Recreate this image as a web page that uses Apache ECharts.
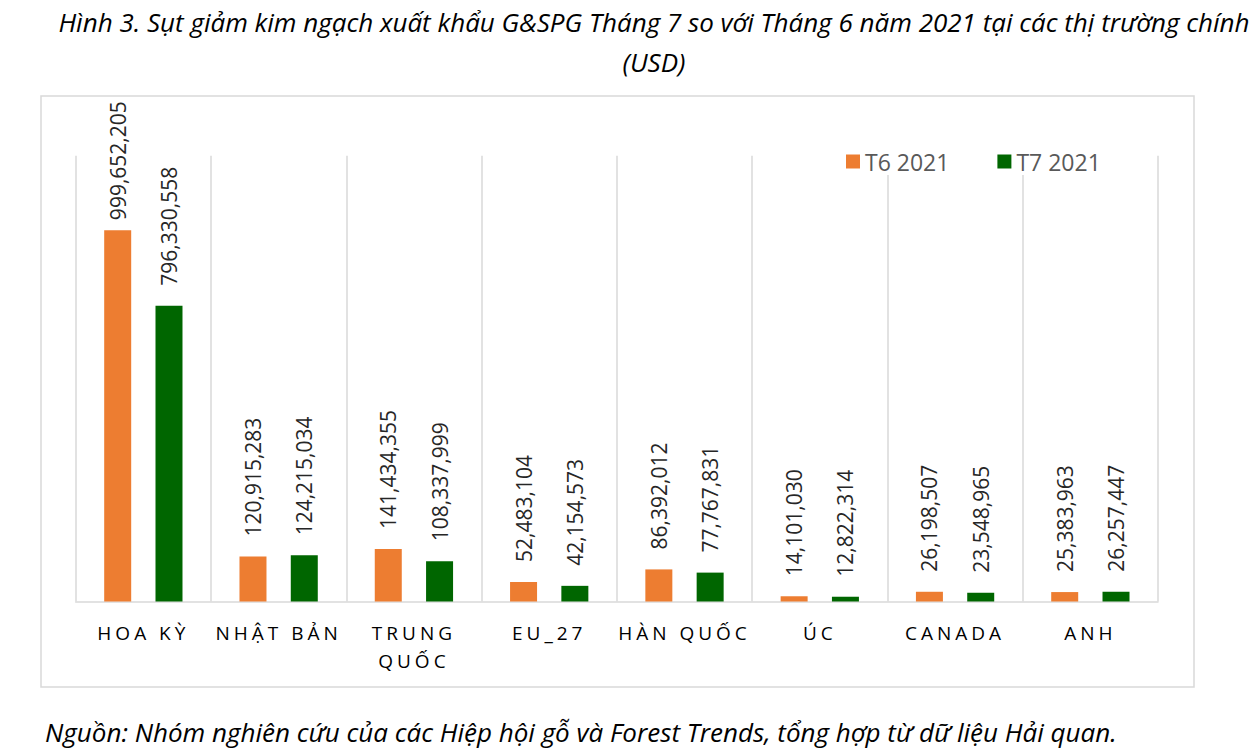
<!DOCTYPE html>
<html><head><meta charset="utf-8">
<script src="https://cdn.jsdelivr.net/npm/echarts@6/dist/echarts.min.js"></script>
<style>html,body{margin:0;padding:0;background:#fff}#c{width:1259px;height:755px}</style>
</head><body><div id="c"></div>
<script>
const categories = ['HOA KỲ', 'NHẬT BẢN', 'TRUNG QUỐC', 'EU_27', 'HÀN QUỐC', 'ÚC', 'CANADA', 'ANH'];
const t6Values = [999652205, 120915283, 141434355, 52483104, 86392012, 14101030, 26198507, 25383963];
const t7Values = [796330558, 124215034, 108337999, 42154573, 77767831, 12822314, 23548965, 26257447];
const seriesNames = ['T6 2021', 'T7 2021'];
const titleLines = ['Hình 3. Sụt giảm kim ngạch xuất khẩu G&SPG Tháng 7 so với Tháng 6 năm 2021 tại các thị trường chính', '(USD)'];
const sourceText = 'Nguồn: Nhóm nghiên cứu của các Hiệp hội gỗ và Forest Trends, tổng hợp từ dữ liệu Hải quan.';

const FONT = '"Open Sans", "Noto Sans", sans-serif';
const chart = echarts.init(document.getElementById('c'), null, { renderer: 'svg' });

const wrapLabel = v => v.replace('TRUNG QUỐC', 'TRUNG\nQUỐC');
const fmt = p => Number(p.value).toLocaleString('en-US');

const labelBase = {
  show: true, position: 'top', rotate: 90, distance: 20,
  align: 'left', verticalAlign: 'middle',
  fontFamily: FONT, fontSize: 21, color: '#262626', formatter: fmt
};

chart.setOption({
  animation: false,
  backgroundColor: '#fff',
  title: [
    { text: titleLines.join('\n'), left: 649, textAlign: 'center', top: -3,
      textStyle: { fontFamily: FONT, fontStyle: 'italic', fontWeight: 'normal', fontSize: 26, lineHeight: 40, color: '#000' } },
    { text: sourceText, left: 40, top: 711,
      textStyle: { fontFamily: FONT, fontStyle: 'italic', fontWeight: 'normal', fontSize: 26, lineHeight: 32, color: '#000' } }
  ],
  graphic: [{
    type: 'rect', silent: true, z: -1,
    shape: { x: 41, y: 96, width: 1153, height: 591 },
    style: { fill: 'none', stroke: '#d9d9d9', lineWidth: 1.5 }
  }],
  legend: {
    data: seriesNames, left: 846, top: 150, padding: [0, 4, 2, 0],
    backgroundColor: '#fff', itemWidth: 14, itemHeight: 14, itemGap: 48, icon: 'rect',
    textStyle: { fontFamily: FONT, fontSize: 23, color: '#595959' }
  },
  grid: { left: 75.7, right: 101, top: 155.7, bottom: 153.5, containLabel: false },
  xAxis: {
    type: 'category', data: categories,
    axisLine: { lineStyle: { color: '#d9d9d9', width: 1.5 } },
    axisTick: { show: false },
    splitLine: { show: true, lineStyle: { color: '#d9d9d9', width: 1.5 } },
    axisLabel: { interval: 0, margin: 17, fontFamily: FONT, fontSize: 19, lineHeight: 28, color: '#000', formatter: wrapLabel }
  },
  yAxis: {
    type: 'value', min: 0, max: 1200000000, interval: 200000000,
    axisLine: { show: false }, axisTick: { show: false }, axisLabel: { show: false }, splitLine: { show: false }
  },
  series: [
    { name: seriesNames[0], type: 'bar', barWidth: 27, barGap: '90%', itemStyle: { color: '#ED7D31' },
      label: labelBase,
      data: t6Values.map((v, i) => i === 0 ? { value: v, label: { distance: 10 } } : v) },
    { name: seriesNames[1], type: 'bar', barWidth: 27, barGap: '90%', itemStyle: { color: '#006600' },
      label: labelBase, data: t7Values }
  ]
});

const spaced = new Set();
categories.map(wrapLabel).forEach(s => s.split('\n').forEach(l => spaced.add(l)));
function applySpacing() {
  document.querySelectorAll('#c text').forEach(t => {
    if (spaced.has(t.textContent.trim())) t.setAttribute('letter-spacing', '4px');
  });
}
chart.on('finished', applySpacing);
applySpacing();
requestAnimationFrame(applySpacing);
setTimeout(applySpacing, 50);
</script></body></html>
